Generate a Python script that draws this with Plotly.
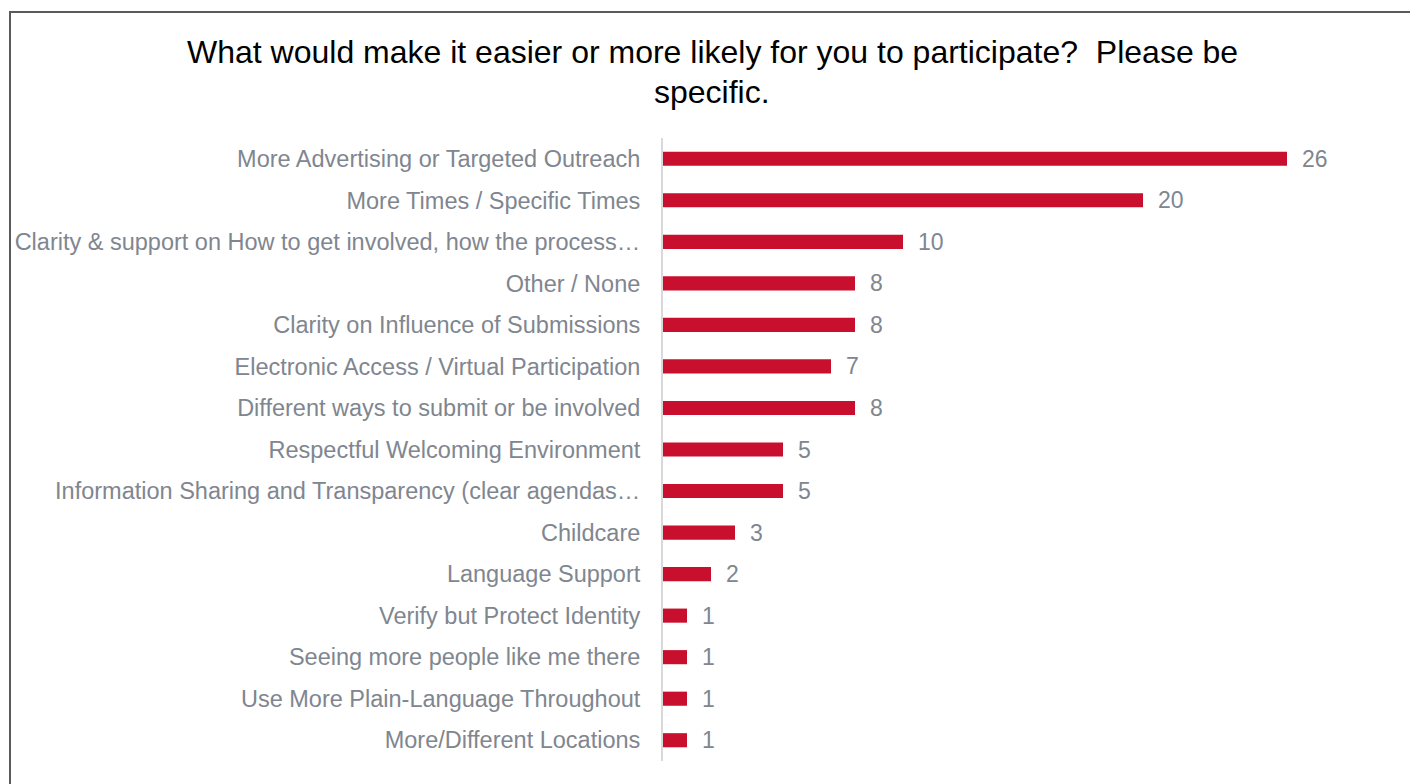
import plotly.graph_objects as go

categories = [
    "More Advertising or Targeted Outreach",
    "More Times / Specific Times",
    "Clarity & support on How to get involved, how the process…",
    "Other / None",
    "Clarity on Influence of Submissions",
    "Electronic Access / Virtual Participation",
    "Different ways to submit or be involved",
    "Respectful Welcoming Environment",
    "Information Sharing and Transparency (clear agendas…",
    "Childcare",
    "Language Support",
    "Verify but Protect Identity",
    "Seeing more people like me there",
    "Use More Plain-Language Throughout",
    "More/Different Locations",
]
values = [26, 20, 10, 8, 8, 7, 8, 5, 5, 3, 2, 1, 1, 1, 1]
title_lines = [
    "What would make it easier or more likely for you to participate?  Please be",
    "specific.",
]

# page body has 8px margin, so figure is offset by 8px
OFF = 8
W, H = 1418 - OFF, 784 - OFF
ML, MR, MT, MB = 655, 35, 130, 23
PW, PH = W - ML - MR, H - MT - MB

BAR = "#C8102E"
GRAY = "#80868F"
FONT = "Liberation Sans, Arial, sans-serif"

fig = go.Figure(go.Bar(
    x=values, y=categories, orientation="h",
    marker=dict(color=BAR, line=dict(width=0)),
    width=0.34,
))

for c, v in zip(categories, values):
    fig.add_annotation(x=v, y=c, text=str(v), showarrow=False, xanchor="left",
                       xshift=13, font=dict(size=23, color=GRAY, family=FONT))

def px_x(p):
    return (p - ML) / PW

def px_y(p):
    return (H - MB - p) / PH

fig.add_shape(type="rect", xref="paper", yref="paper",
              x0=px_x(2), x1=px_x(1404), y0=px_y(800), y1=px_y(4),
              line=dict(color="#5A5A5A", width=2), fillcolor="rgba(0,0,0,0)", layer="below")

for i, line in enumerate(title_lines):
    fig.add_annotation(text=line, xref="paper", yref="paper",
                       x=px_x(704), y=px_y(44 + 40 * i), xanchor="center", yanchor="middle",
                       showarrow=False, align="center",
                       font=dict(size=32, color="#000000", family=FONT))

fig.update_layout(
    width=W, height=H,
    margin=dict(l=ML, r=MR, t=MT, b=MB, autoexpand=False),
    paper_bgcolor="white", plot_bgcolor="white",
    font=dict(family=FONT),
    showlegend=False,
    xaxis=dict(range=[0, PW / 24], visible=False, showgrid=False, zeroline=False,
               automargin=False),
    yaxis=dict(autorange="reversed", showgrid=False, zeroline=False,
               showline=True, linecolor="#D9D9D9", linewidth=2,
               ticks="", ticklabelstandoff=16, automargin=False,
               tickfont=dict(size=23.5, color=GRAY, family=FONT)),
)

fig.write_html("out.html")
